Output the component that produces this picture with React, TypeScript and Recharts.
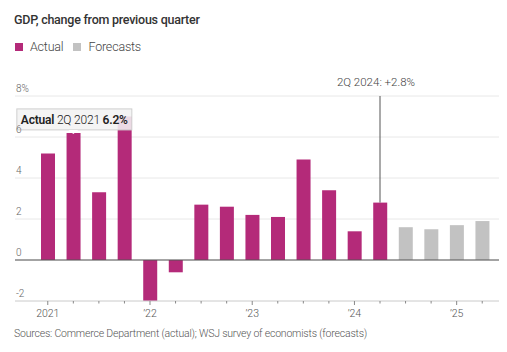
import {
  BarChart,
  Bar,
  XAxis,
  YAxis,
  CartesianGrid,
  ReferenceLine,
  ReferenceDot,
} from "recharts";

const quarters = [
  "1Q21", "2Q21", "3Q21", "4Q21",
  "1Q22", "2Q22", "3Q22", "4Q22",
  "1Q23", "2Q23", "3Q23", "4Q23",
  "1Q24", "2Q24", "3Q24", "4Q24",
  "1Q25", "2Q25",
];
const actualValues = [5.2, 6.2, 3.3, 7.0, -2.0, -0.6, 2.7, 2.6, 2.2, 2.1, 4.9, 3.4, 1.4, 2.8];
const forecastValues = [1.6, 1.5, 1.7, 1.9];
const yearTickQuarters = ["1Q21", "1Q22", "1Q23", "1Q24", "1Q25"];
const yearTickLabels = ["2021", "\u201922", "\u201923", "\u201924", "\u201925"];
const yTicks = [-2, 0, 2, 4, 6, 8];
const seriesNames = ["Actual", "Forecasts"];
const seriesColors = ["#b42a79", "#c2c2c2"];

const data = quarters.map((q, i) => ({
  q,
  actual: i < actualValues.length ? actualValues[i] : null,
  forecast: i >= actualValues.length ? forecastValues[i - actualValues.length] : null,
}));

const FONT = "Roboto, sans-serif";

const XTick = (props: any) => {
  const { x, y, payload } = props;
  const idx = yearTickQuarters.indexOf(payload.value);
  const isYear = idx >= 0;
  return (
    <g>
      <line x1={x} x2={x} y1={y} y2={y + (isYear ? 4 : 2.5)} stroke="#888" strokeWidth={1} />
      {isYear && (
        <text x={x} y={y + 16} textAnchor="middle" fontSize={10.5} fill="#555" fontFamily={FONT} fontWeight={300}>
          {yearTickLabels[idx]}
        </text>
      )}
    </g>
  );
};

const YTick = (props: any) => {
  const { y, payload } = props;
  return (
    <text x={16} y={y - 4} textAnchor="start" fontSize={10} fill="#666" fontFamily={FONT} fontWeight={300}>
      {payload.value === 8 ? "8%" : payload.value}
    </text>
  );
};

const HoverBox = (props: any) => {
  const { cx, cy } = props;
  const w = 115;
  const h = 21;
  const top = cy - 24;
  return (
    <g>
      <rect x={cx - w / 2 + 1} y={top} width={w} height={h} fill="rgba(243,243,243,0.88)" stroke="#cfcfcf" strokeWidth={1} />
      <path d={`M${cx - 5},${top + h} L${cx},${top + h + 4} L${cx + 5},${top + h}`} fill="#fff" stroke="none" />
      <text x={cx - w / 2 + 5} y={top + 15} fontSize={12} letterSpacing={-0.2} fill="#222" fontFamily={FONT}>
        <tspan fontWeight={600}>{seriesNames[0]}</tspan>
        <tspan fontWeight={300}> 2Q 2021 </tspan>
        <tspan fontWeight={600}>{`${actualValues[1]}%`}</tspan>
      </text>
    </g>
  );
};

const CalloutLabel = (props: any) => {
  const vb = props.viewBox || {};
  return (
    <text x={vb.x - 4} y={vb.y - 10} textAnchor="middle" fontSize={11.5} fill="#444" fontFamily={FONT} fontWeight={300}>
      {`2Q 2024: +${actualValues[13]}%`}
    </text>
  );
};

export default function App() {
  return (
    <div style={{ position: "absolute", left: 0, top: 0, width: 507, height: 352, background: "#fff", fontFamily: FONT }}>
      <div style={{ position: "absolute", left: 14, top: 12, fontSize: 12.5, letterSpacing: -0.25, fontWeight: 500, color: "#333", whiteSpace: "nowrap" }}>
        GDP, change from previous quarter
      </div>
      <div style={{ position: "absolute", left: 15, top: 39, display: "flex", alignItems: "center", fontSize: 12.5, letterSpacing: -0.2, fontWeight: 300, color: "#444" }}>
        {seriesNames.map((n, i) => (
          <div key={n} style={{ display: "flex", alignItems: "center", marginRight: 10 }}>
            <span style={{ display: "inline-block", width: 8, height: 8, background: seriesColors[i], marginRight: 7 }} />
            <span>{n}</span>
          </div>
        ))}
      </div>
      <div style={{ position: "absolute", left: 0, top: 0 }}>
        <BarChart width={507} height={352} data={data} margin={{ top: 96, right: 8, bottom: 21, left: 14 }}>
          <CartesianGrid vertical={false} stroke="#e8e8e8" />
          <XAxis
            dataKey="q"
            interval={0}
            height={30}
            tickLine={false}
            tickSize={0}
            tickMargin={0}
            axisLine={{ stroke: "#d6d6d6" }}
            padding={{ left: 20, right: 4 }}
            tick={<XTick />}
          />
          <YAxis
            width={1}
            domain={[-2, 8]}
            ticks={yTicks}
            interval={0}
            axisLine={false}
            tickLine={false}
            tick={<YTick />}
          />
          <Bar dataKey="actual" stackId="a" barSize={14} fill={seriesColors[0]} isAnimationActive={false} />
          <Bar dataKey="forecast" stackId="a" barSize={14} fill={seriesColors[1]} isAnimationActive={false} />
          <ReferenceLine y={0} stroke="#555" strokeWidth={1} />
          <ReferenceLine
            segment={[
              { x: quarters[13], y: actualValues[13] },
              { x: quarters[13], y: 8 },
            ]}
            stroke="#555"
            strokeWidth={1}
            label={<CalloutLabel />}
          />
          <ReferenceDot x={quarters[1]} y={actualValues[1]} r={0} shape={<HoverBox />} />
        </BarChart>
      </div>
      <div style={{ position: "absolute", left: 14, top: 327, fontSize: 10.5, letterSpacing: -0.2, fontWeight: 300, color: "#555", whiteSpace: "nowrap" }}>
        Sources: Commerce Department (actual); WSJ survey of economists (forecasts)
      </div>
    </div>
  );
}
